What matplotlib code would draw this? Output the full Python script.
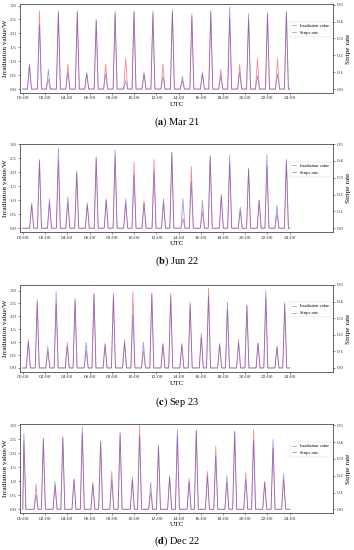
import numpy as np
import matplotlib
matplotlib.use("Agg")
import matplotlib.pyplot as plt

plt.rcParams['font.family'] = ['Liberation Serif', 'DejaVu Serif']
plt.rcParams['mathtext.fontset'] = 'stix'

# peak times (hours UTC) and peak values
mar_t = [0.6, 1.5, 2.3, 3.2, 4.05, 4.9, 5.75, 6.6, 7.45, 8.3, 9.25, 10.0, 10.9, 11.7,
         12.6, 13.45, 14.35, 15.2, 16.15, 16.9, 17.8, 18.6, 19.5, 20.3, 21.1, 22.0, 22.9, 23.7]
mar_irr = [0.9, 2.8, 0.35, 2.8, 0.9, 2.8, 0.6, 2.5, 0.9, 2.8, 1.1, 2.8, 0.6, 2.8,
           0.9, 2.85, 0.3, 2.7, 0.6, 2.8, 0.7, 2.55, 0.9, 2.5, 1.1, 2.75, 1.1, 2.8]
mar_stripe = [0.14, 0.38, 0.115, 0.455, 0.1, 0.455, 0.09, 0.405, 0.09, 0.445, 0.05, 0.455, 0.09, 0.445,
              0.075, 0.46, 0.075, 0.43, 0.09, 0.455, 0.08, 0.485, 0.1, 0.445, 0.08, 0.445, 0.09, 0.455]

jun_t = [0.8, 1.5, 2.4, 3.2, 4.05, 4.85, 5.8, 6.6, 7.5, 8.3, 9.25, 10.0, 10.9, 11.8,
         12.65, 13.4, 14.4, 15.15, 16.15, 16.85, 17.85, 18.6, 19.55, 20.3, 21.25, 21.95, 22.85, 23.7]
jun_irr = [0.9, 2.45, 0.9, 2.4, 0.9, 2.05, 0.9, 2.55, 1.05, 2.55, 0.9, 2.35, 0.95, 2.45,
           0.9, 2.7, 0.35, 2.2, 0.6, 2.6, 1.2, 2.3, 0.6, 2.15, 1.0, 2.2, 0.5, 2.4]
jun_stripe = [0.14, 0.4, 0.175, 0.475, 0.185, 0.325, 0.14, 0.415, 0.165, 0.465, 0.175, 0.315, 0.15, 0.335,
              0.175, 0.45, 0.175, 0.275, 0.165, 0.425, 0.19, 0.435, 0.125, 0.35, 0.165, 0.435, 0.135, 0.41]

sep_t = [0.5, 1.3, 2.25, 3.0, 4.0, 4.7, 5.7, 6.4, 7.4, 8.15, 9.15, 9.9, 10.85, 11.6,
         12.6, 13.3, 14.3, 15.05, 16.05, 16.7, 17.7, 18.4, 19.4, 20.15, 21.15, 21.85, 22.85, 23.55]
sep_irr = [1.1, 2.65, 0.65, 2.5, 1.0, 2.7, 0.65, 2.9, 0.95, 2.9, 1.1, 2.95, 0.65, 2.9,
           0.95, 2.9, 0.95, 2.55, 1.35, 3.1, 0.95, 2.25, 1.1, 2.45, 0.95, 2.7, 0.85, 2.55]
sep_stripe = [0.155, 0.395, 0.13, 0.46, 0.13, 0.405, 0.155, 0.445, 0.14, 0.435, 0.15, 0.32, 0.155, 0.445,
              0.14, 0.43, 0.14, 0.38, 0.185, 0.435, 0.14, 0.395, 0.15, 0.375, 0.15, 0.465, 0.125, 0.38]

dec_t = [0.1, 1.2, 1.85, 2.9, 3.6, 4.6, 5.35, 6.3, 7.0, 8.0, 8.75, 9.85, 10.5, 11.5,
         12.2, 13.2, 13.9, 14.95, 15.6, 16.6, 17.35, 18.35, 19.05, 20.05, 20.75, 21.75, 22.5, 23.45]
dec_irr = [2.45, 0.9, 2.55, 0.85, 2.6, 1.1, 2.7, 0.95, 2.45, 1.35, 2.75, 1.15, 3.0, 0.6,
           2.3, 1.2, 2.6, 1.1, 2.85, 1.35, 2.25, 0.95, 2.8, 1.3, 2.85, 1.0, 2.2, 1.05]
dec_stripe = [0.45, 0.085, 0.415, 0.165, 0.425, 0.175, 0.49, 0.15, 0.4, 0.175, 0.45, 0.175, 0.435, 0.16,
              0.375, 0.19, 0.475, 0.165, 0.465, 0.2, 0.315, 0.2, 0.46, 0.175, 0.41, 0.16, 0.415, 0.21]

captions = [r"($\bf{a}$) Mar 21", r"($\bf{b}$) Jun 22", r"($\bf{c}$) Sep 23", r"($\bf{d}$) Dec 22"]
hour_ticks = list(range(0, 25, 2))
hour_labels = ["%02d:00" % h for h in hour_ticks]


def day_curve(times, values, hw=0.18):
    # zero baseline over the day with a narrow spike at each peak
    x = [0.0]
    y = [0.0]
    for c, v in zip(times, values):
        x += [max(c - hw, 0.0), c, c + hw]
        y += [0.0, v, 0.0]
    x.append(24.0)
    y.append(0.0)
    return x, y


panels = [
    (mar_t, mar_irr, mar_stripe, (-0.14, 3.06), (-0.023, 0.505)),
    (jun_t, jun_irr, jun_stripe, (-0.14, 3.0), (-0.023, 0.5)),
    (sep_t, sep_irr, sep_stripe, (-0.15, 3.22), (-0.023, 0.5)),
    (dec_t, dec_irr, dec_stripe, (-0.14, 3.05), (-0.023, 0.508)),
]
boxes = [(0.831, 0.993), (0.578, 0.738), (0.324, 0.482), (0.067, 0.229)]
cap_y = [0.765, 0.513, 0.257, 0.003]

fig = plt.figure(figsize=(3.54, 5.5), dpi=100)
for i, (t, irr, stripe, yl, yr) in enumerate(panels):
    b, top = boxes[i]
    ax = fig.add_axes([0.0565, b, 0.8845, top - b])
    x1, y1 = day_curve(t, irr)
    x2, y2 = day_curve(t, stripe)
    l1, = ax.plot(x1, y1, color='#e8333a', lw=0.6, alpha=0.55, label='Irradiation value')
    ax.set_ylim(*yl)
    ax.set_xlim(-0.25, 27.9)
    ax.set_xticks(hour_ticks)
    ax.set_xticklabels(hour_labels)
    ax.set_yticks([0, 0.5, 1.0, 1.5, 2.0, 2.5, 3.0])
    ax.set_ylabel('Irradiation value/W', fontsize=5.2, labelpad=1)
    ax.set_xlabel('UTC', fontsize=5.2, labelpad=1)
    ax.tick_params(labelsize=3.9, length=1.5, width=0.4, pad=1, colors='#333333')
    ax2 = ax.twinx()
    l2, = ax2.plot(x2, y2, color='#3a3ad8', lw=0.6, alpha=0.5, label='Stripe rate')
    ax2.set_ylim(*yr)
    ax2.set_yticks([0, 0.1, 0.2, 0.3, 0.4, 0.5])
    ax2.set_ylabel('Stripe rate', fontsize=5.2, labelpad=2)
    ax2.tick_params(labelsize=3.9, length=1.5, width=0.4, pad=1, colors='#333333')
    for a in (ax, ax2):
        for s in a.spines.values():
            s.set_linewidth(0.4)
            s.set_color('#444444')
    leg = ax2.legend([l1, l2], ['Irradiation value', 'Stripe rate'], loc='center right',
                     bbox_to_anchor=(0.997, 0.715), fontsize=3.2, frameon=True,
                     fancybox=False, handlelength=1.0, borderpad=0.5, labelspacing=0.6,
                     borderaxespad=0.2)
    leg.get_frame().set_linewidth(0.3)
    fig.text(0.5, cap_y[i], captions[i], ha='center', va='bottom', fontsize=7.5)

fig.savefig('out.png', dpi=100)
